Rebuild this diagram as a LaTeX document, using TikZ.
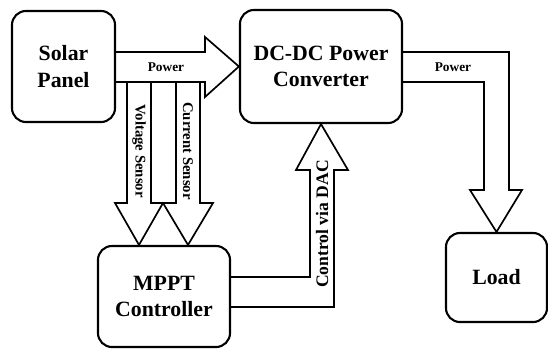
\documentclass[tikz,border=0pt]{standalone}
\usepackage{fontspec}
\setmainfont{Liberation Serif}
\usetikzlibrary{calc}

\begin{document}
\begin{tikzpicture}[x=0.025cm,y=-0.025cm,
  block/.style={draw,line width=1.5pt,rounded corners=0.35cm,align=center,
    font=\fontsize{15.5}{19}\selectfont\bfseries,inner sep=0pt},
  fat/.style={draw,line width=1.2pt,line join=miter},
  tag/.style={font=\fontsize{9.5}{10}\selectfont\bfseries,inner sep=1pt}]
\useasboundingbox (0,0) rectangle (548,350);

% blocks
\node[block,minimum width=2.575cm,minimum height=2.775cm] (solar) at (63.5,66.5) {Solar\\Panel};
\node[block,minimum width=4.05cm,minimum height=2.825cm] (conv) at (321,66.5) {DC-DC Power\\Converter};
\node[block,minimum width=3.3cm,minimum height=2.525cm] (mppt) at (164,296.5) {MPPT\\Controller};
\node[block,minimum width=2.525cm,minimum height=2.225cm] (load) at (496.5,277.5) {Load};

% power from the panel
\draw[fat] (solar.east |- 0,52) -- (205,52) -- (205,37) -- (conv.west) -- (205,97) -- (205,82) -- (solar.east |- 0,82);
\node[tag] (p1) at (166,67) {Power};

% sensor lines
\draw[fat] (127,82) -- (127,203) -- (115,203) -- ($(mppt.north)+(-25,0)$) -- (163,203) -- (151,203) -- (151,82);
\draw[fat] (176,82) -- (176,203) -- (163,203) -- ($(mppt.north)+(24,0)$) -- (213,203) -- (200,203) -- (200,82);
\node[tag,font=\fontsize{10.5}{11}\selectfont\bfseries,rotate=-90] (vs) at (139,151) {Voltage Sensor};
\node[tag,font=\fontsize{10.5}{11}\selectfont\bfseries,rotate=-90] (cs) at (188,151) {Current Sensor};

% control back to the converter
\draw[fat] (mppt.east |- 0,307) -- (334,307) -- (334,170) -- (348,170) -- (conv.south) -- (296,170) -- (310,170) -- (310,277) -- (mppt.east |- 0,277);
\node[tag,font=\fontsize{12.5}{13}\selectfont\bfseries,rotate=90] (dac) at (322,224) {Control via DAC};

% power to the load
\draw[fat] (conv.east |- 0,52) -- (509,52) -- (509,190) -- (522,190) -- (load.north) -- (470,190) -- (484,190) -- (484,82) -- (conv.east |- 0,82);
\node[tag] (p2) at (453,67) {Power};
\end{tikzpicture}
\end{document}
